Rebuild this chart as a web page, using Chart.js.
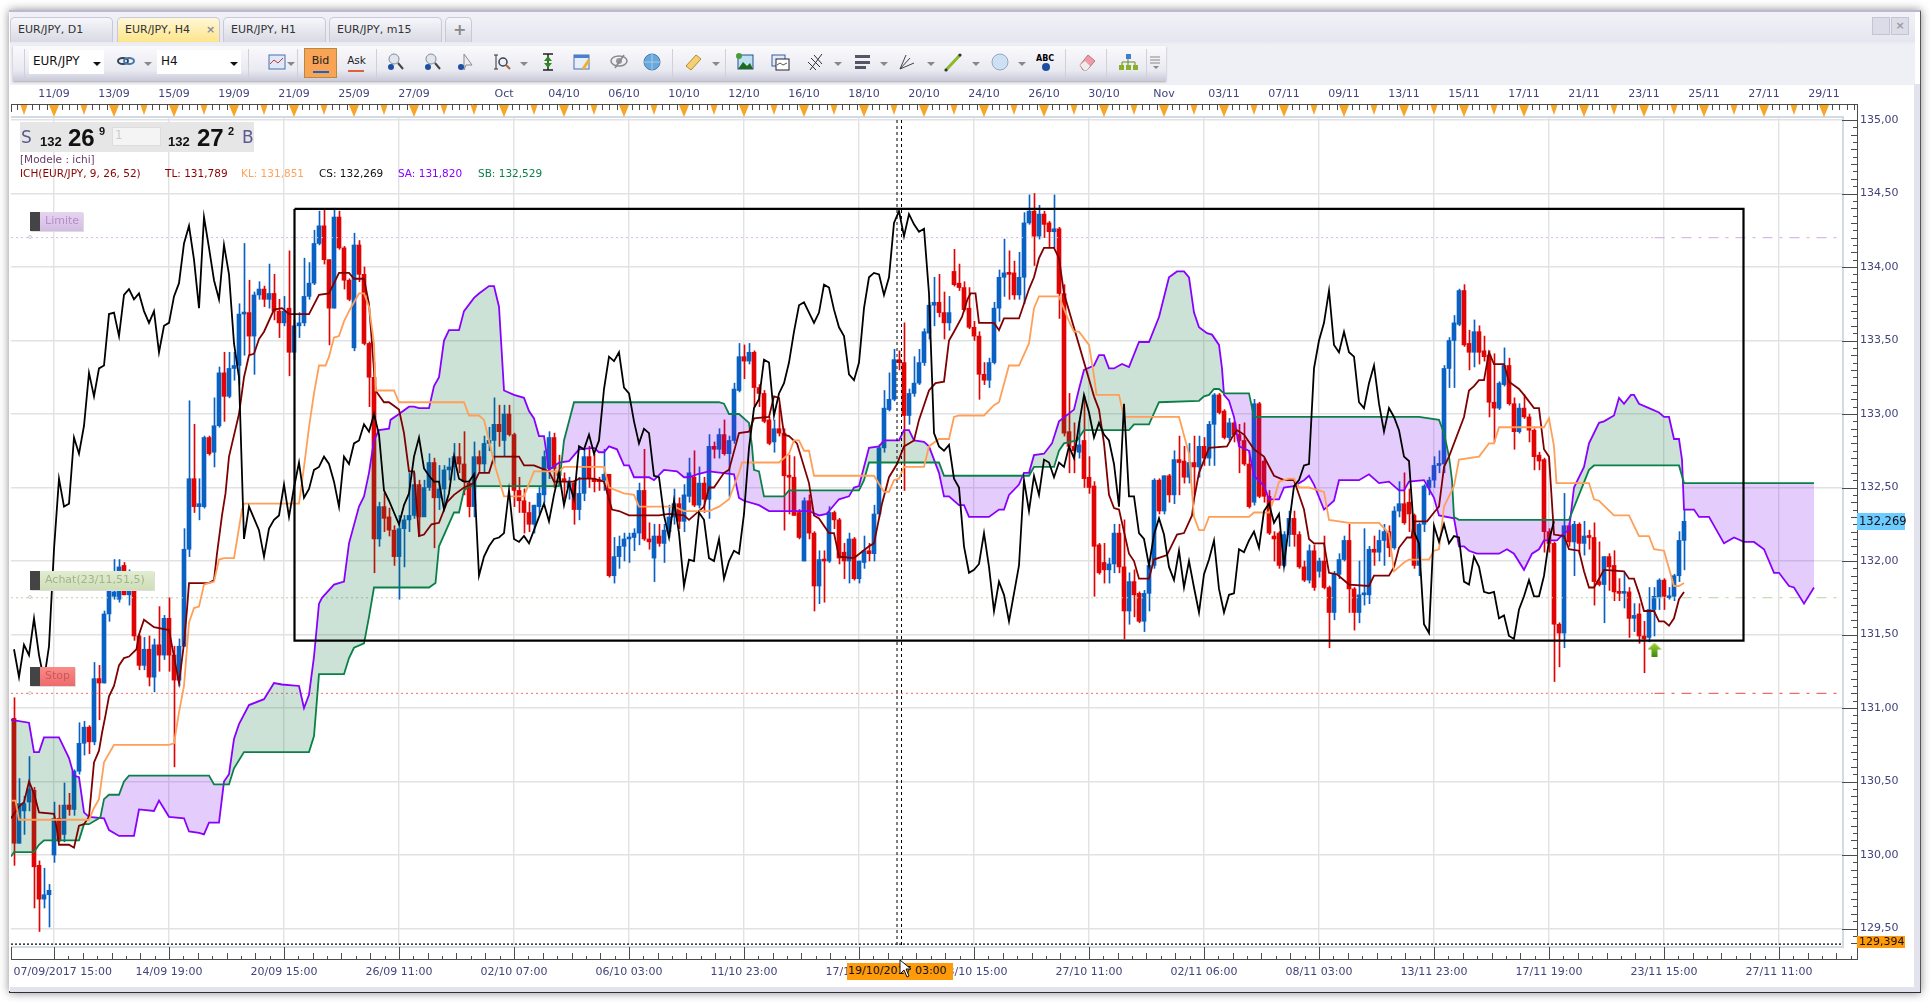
<!DOCTYPE html>
<html>
<head>
<meta charset="utf-8">
<title>EUR/JPY, H4</title>
<script src="https://cdn.jsdelivr.net/npm/chart.js@4/dist/chart.umd.min.js"></script>
<style>
  html, body { margin: 0; padding: 0; width: 1930px; height: 1002px; overflow: hidden; background: #fff; font-family: "DejaVu Sans", sans-serif; font-size: 11px; }
  div, span { position: absolute; white-space: nowrap; box-sizing: border-box; }
  #win { left: 9px; top: 10px; width: 1912px; height: 983px; background: #fff; border-top: 2px solid #b9b9d2; border-bottom: 2px solid #2e2e3a; border-right: 1px solid #555; box-shadow: 0 0 9px rgba(0,0,0,.45); }
  #head { left: 10px; top: 12px; width: 1905px; height: 73px; background: linear-gradient(#f1f1f7, #e6e6f0 40%, #efeff6 45%); }
  #sideR { left: 1914px; top: 84px; width: 6px; height: 907px; background: #e3e3ee; }
  #sideB { left: 10px; top: 987px; width: 1910px; height: 5px; background: #e3e3ee; }
  .tab { top: 17px; height: 25px; border: 1px solid #c8c8d8; border-bottom: none; border-radius: 5px 5px 0 0; background: linear-gradient(#f6f6fb, #d9d9e4); color: #333; line-height: 24px; padding-left: 7px; }
  .tab.on { background: linear-gradient(#fff7d8, #fde58a); }
  #tools { left: 13px; top: 46px; width: 1153px; height: 35px; background: linear-gradient(#fafafd, #e9e9f1 70%, #c9c9d8); box-shadow: 0 1px 2px #aaa; }
  .combo { top: 50px; height: 24px; background: #fff; line-height: 23px; padding-left: 4px; font-size: 12px; color: #111; }
  .arr { top: 62px; width: 0; height: 0; border-left: 4px solid transparent; border-right: 4px solid transparent; border-top: 4px solid #888; }
  .sep { top: 49px; width: 1px; height: 29px; background: #d0d0dc; }
  .tag { height: 19px; line-height: 18px; padding-left: 15px; font-size: 11px; box-shadow: 1px 1px 0 #ddd; }
  .tag i { position: absolute; left: 0; top: 0; width: 10px; height: 19px; background: #444; }
  .tagdot { width: 4px; height: 4px; border-radius: 50%; border: 1px solid #ccc; left: 28px; background: #fff; }
  #bigbox { left: 20px; top: 122px; width: 234px; height: 30px; background: #e6e6e6; }
  .b { font-family: "Liberation Sans", sans-serif; font-weight: bold; color: #111; }
  .lg { top: 167px; font-size: 10.5px; }
  #chartBox { left: 0; top: 0; width: 1930px; height: 1002px; }
</style>
</head>
<body>
<div id="win"></div>
<div id="head"></div>
<div id="sideR"></div>
<div id="sideB"></div>
<div class="tab" style="left:10px;width:103px">EUR/JPY, D1</div>
<div class="tab on" style="left:117px;width:103px">EUR/JPY, H4<span style="left:88px;top:0;color:#8a8a9a;font-weight:bold">×</span></div>
<div class="tab" style="left:223px;width:103px">EUR/JPY, H1</div>
<div class="tab" style="left:329px;width:113px">EUR/JPY, m15</div>
<div class="tab" style="left:445px;width:27px;font-size:16px;color:#888;font-weight:bold">+</div>
<div style="left:1872px;top:17px;width:18px;height:18px;background:#dcdce8;border:1px solid #c4c4d4"></div>
<div style="left:1891px;top:17px;width:18px;height:18px;background:#dcdce8;border:1px solid #c4c4d4;color:#999;text-align:center;line-height:16px;font-weight:bold">×</div>
<div id="tools"></div>
<div class="combo" style="left:29px;width:75px">EUR/JPY</div>
<div class="combo" style="left:157px;width:84px">H4</div>
<div class="arr" style="left:93px;border-top-color:#111"></div>
<div class="arr" style="left:230px;border-top-color:#111"></div>
<div style="left:304px;top:48px;width:33px;height:30px;background:#f9a356;border:1px solid #b58a3c;text-align:center;line-height:24px;color:#222">Bid<span style="left:8px;top:22px;width:16px;height:2px;background:#1166cc"></span></div>
<div style="left:343px;top:48px;width:27px;height:30px;text-align:center;line-height:24px;color:#222;font-size:10.5px">Ask<span style="left:5px;top:22px;width:16px;height:2px;background:#e0603a"></span></div>
<div id="iconRow"></div>

<div id="chartBox"><canvas id="chart" width="1930" height="1002"></canvas></div>

<div id="bigbox"></div>
<span style="left:21px;top:127px;font-size:17px;color:#5a5a90">S</span>
<span class="b" style="left:40px;top:134px;font-size:13px">132</span>
<span class="b" style="left:68px;top:124px;font-size:24px">26</span>
<span class="b" style="left:99px;top:125px;font-size:11px">9</span>
<div style="left:112px;top:127px;width:49px;height:19px;background:#f4f4f4;border:1px solid #ddd;color:#ccc;font-size:12px;padding-left:2px">1</div>
<span class="b" style="left:168px;top:134px;font-size:13px">132</span>
<span class="b" style="left:197px;top:124px;font-size:24px">27</span>
<span class="b" style="left:228px;top:125px;font-size:11px">2</span>
<span style="left:242px;top:127px;font-size:17px;color:#5a5a90">B</span>
<span style="left:20px;top:153px;font-size:10.5px;color:#6a3b6a">[Modele : ichi]</span>
<span class="lg" style="left:20px;color:#8b0000">ICH(EUR/JPY, 9, 26, 52)</span>
<span class="lg" style="left:165px;color:#8b0000">TL: 131,789</span>
<span class="lg" style="left:241px;color:#ffa35c">KL: 131,851</span>
<span class="lg" style="left:319px;color:#111">CS: 132,269</span>
<span class="lg" style="left:398px;color:#8a00ff">SA: 131,820</span>
<span class="lg" style="left:478px;color:#0a8048">SB: 132,529</span>

<div class="tag" style="left:30px;top:212px;width:53px;background:linear-gradient(#e6d4f0,#d4bce4);color:#b48fcb"><i></i>Limite</div>
<div class="tagdot" style="top:235px"></div>
<div class="tag" style="left:30px;top:571px;width:124px;background:linear-gradient(#e2ecd2,#cfdeb8);color:#a0b58a"><i></i>Achat(23/11,51,5)</div>
<div class="tagdot" style="top:595px"></div>
<div class="tag" style="left:30px;top:667px;width:45px;background:linear-gradient(#fb8a8a,#ee6a6a);color:#c85a5a"><i></i>Stop</div>
<div class="tagdot" style="top:691px"></div>

<div style="left:1857px;top:513px;width:48px;height:17px;background:#6ccbff;color:#111;font-size:11.5px;line-height:16px;padding-left:2px">132,269</div>
<div style="left:1857px;top:936px;width:48px;height:12px;background:#ff9a0a;color:#111;font-size:11px;line-height:11px;padding-left:2px">129,394</div>
<div style="left:847px;top:963px;width:106px;height:17px;background:#ff9a0a;color:#111;font-size:11px;line-height:16px;padding-left:1px">19/10/2017 03:00</div>
<svg style="position:absolute;left:899px;top:959px" width="14" height="20"><path d="M1 1 L1 15 L5 11 L8 18 L10 17 L7 10 L12 10 Z" fill="#fff" stroke="#111"/></svg>

<script>
// candles, one entry per H4 bar
const opens = [
  130.93,130.08,130.30,130.36,130.44,129.93,129.70,129.73,130.00,130.25,
  130.14,130.34,130.31,130.57,130.76,130.87,130.77,131.20,131.17,131.64,
  131.76,131.74,131.97,131.77,131.82,131.49,131.29,131.40,131.21,131.43,
  131.36,131.61,131.36,131.19,131.42,132.08,132.56,132.37,132.37,132.84,
  132.74,132.92,133.28,133.12,133.31,133.33,133.68,133.69,133.53,133.81,
  133.85,133.78,133.82,133.70,133.62,133.72,133.42,133.60,133.62,133.80,
  133.89,134.16,134.28,134.05,133.72,134.34,134.13,133.91,133.45,134.15,
  133.95,133.48,133.25,132.15,132.37,132.30,132.21,132.03,132.22,132.28,
  132.31,132.52,132.30,132.50,132.67,132.43,132.49,132.62,132.64,132.71,
  132.66,132.53,132.37,132.71,132.66,132.80,132.82,132.93,132.82,133.00,
  132.86,132.48,132.41,132.33,132.25,132.37,132.45,132.63,132.84,132.60,
  132.56,132.50,132.53,132.35,132.46,132.71,132.56,132.55,132.55,132.59,
  131.90,132.03,132.10,132.15,132.16,132.19,132.48,132.15,132.02,132.17,
  132.12,132.20,132.30,132.39,132.27,132.44,132.57,132.38,132.53,132.42,
  132.78,132.76,132.86,132.73,132.82,133.16,133.39,133.36,133.42,133.18,
  133.14,132.96,132.81,132.90,132.87,132.58,132.57,132.33,132.00,132.41,
  132.19,131.83,132.01,132.00,132.33,132.28,132.06,132.00,132.15,131.88,
  131.99,132.07,132.05,132.32,132.77,133.03,133.10,133.37,133.35,132.99,
  133.14,133.21,133.35,133.55,133.74,133.76,133.69,133.62,133.97,133.89,
  133.86,133.72,133.59,133.53,133.27,133.23,133.35,133.72,133.93,133.96,
  133.96,133.81,133.93,134.30,134.38,134.21,134.36,134.30,134.24,134.26,
  133.82,132.88,132.78,132.74,132.82,132.57,132.51,132.11,131.99,131.94,
  131.98,132.19,131.96,131.66,131.86,131.78,131.59,131.78,131.97,132.55,
  132.34,132.58,132.45,132.69,132.68,132.57,132.67,132.64,132.78,132.70,
  132.93,133.13,133.02,132.84,132.94,132.86,132.82,132.66,132.40,133.07,
  132.68,132.44,132.17,132.19,131.97,132.18,132.29,132.18,131.96,131.87,
  132.07,131.93,132.00,131.82,131.65,131.91,132.01,132.14,131.81,131.65,
  131.77,131.77,132.08,132.06,132.14,132.20,132.09,132.34,132.39,132.40,
  132.31,131.97,132.25,132.50,132.55,132.65,132.66,133.31,133.50,133.61,
  133.84,133.48,133.42,133.56,133.43,133.40,133.08,133.04,133.20,133.33,
  133.07,132.88,133.04,132.98,132.89,132.72,132.69,132.20,132.12,131.57,
  131.51,132.24,132.13,132.25,132.12,132.17,132.16,131.86,131.84,132.03,
  131.97,131.79,131.78,131.79,131.61,131.64,131.49,131.48,131.67,131.75,
  131.87,131.75,131.76,131.90,132.14
];
const highs = [
  131.07,130.52,130.40,130.67,130.46,129.96,129.91,129.80,130.36,130.34,
  130.49,130.42,130.58,130.90,130.91,130.88,131.31,131.29,131.66,131.85,
  132.01,132.01,131.99,131.94,131.84,131.50,131.48,131.49,131.47,131.69,
  131.63,131.75,131.42,131.47,132.22,133.09,132.93,132.56,132.85,132.85,
  133.11,133.32,133.42,133.42,133.42,133.75,134.16,133.91,133.83,133.90,
  133.87,134.02,133.95,133.78,133.80,134.11,133.64,133.69,134.06,134.03,
  134.25,134.38,134.39,134.05,134.40,134.38,134.14,133.92,134.23,134.18,
  134.00,133.49,133.35,132.40,132.46,132.36,132.24,132.31,132.31,132.60,
  132.60,132.55,132.55,132.73,132.70,132.65,132.65,132.70,132.80,132.80,
  132.88,132.55,132.81,132.75,132.85,132.91,133.11,133.06,133.06,133.06,
  132.87,132.57,132.49,132.40,132.38,132.50,132.75,132.88,132.87,132.72,
  132.60,132.57,132.55,132.57,132.76,132.78,132.73,132.57,132.76,132.59,
  132.16,132.17,132.19,132.19,132.22,132.53,132.76,132.26,132.25,132.25,
  132.25,132.38,132.49,132.43,132.52,132.70,132.75,132.64,132.57,132.86,
  132.81,132.90,132.96,132.85,133.21,133.48,133.47,133.48,133.43,133.20,
  133.16,132.98,132.96,133.06,132.90,132.72,132.71,132.35,132.43,132.45,
  132.20,132.07,132.07,132.37,132.34,132.29,132.12,132.19,132.16,132.00,
  132.17,132.12,132.38,132.79,133.16,133.28,133.44,133.43,133.62,133.17,
  133.39,133.44,133.58,133.76,133.93,133.95,133.83,133.80,134.12,134.02,
  133.90,133.86,133.63,133.56,133.35,133.38,133.76,133.98,134.19,134.11,
  134.04,134.10,134.37,134.49,134.50,134.42,134.38,134.31,134.49,134.27,
  133.88,133.14,132.94,132.95,133.12,132.71,132.54,132.12,132.12,132.02,
  132.25,132.25,132.28,131.92,131.94,131.79,131.80,131.98,132.56,132.56,
  132.58,132.59,132.75,132.85,132.78,132.80,132.85,132.85,132.84,132.95,
  133.14,133.14,133.03,132.97,132.95,132.93,132.94,132.75,133.10,133.08,
  132.70,132.48,132.20,132.20,132.20,132.34,132.34,132.20,132.00,132.11,
  132.11,132.02,132.17,131.83,131.93,132.05,132.17,132.25,131.82,132.00,
  132.22,132.10,132.17,132.21,132.25,132.24,132.37,132.54,132.60,132.49,
  132.32,132.26,132.52,132.57,132.71,132.75,133.33,133.52,133.67,133.85,
  133.88,133.57,133.64,133.60,133.53,133.43,133.41,133.22,133.45,133.38,
  133.11,133.07,133.13,133.00,132.90,132.74,132.70,132.22,132.13,131.58,
  132.46,132.26,132.27,132.26,132.27,132.21,132.26,132.13,132.03,132.05,
  132.07,131.88,131.92,131.82,131.71,131.71,131.59,131.82,131.82,131.88,
  131.88,131.82,131.91,132.20,132.35
];
const lows = [
  129.93,130.08,130.14,130.30,129.64,129.48,129.64,129.51,129.95,130.09,
  130.09,130.27,130.27,130.55,130.68,130.69,130.75,130.92,131.17,131.59,
  131.74,131.72,131.77,131.70,131.46,131.26,131.26,131.15,131.11,131.25,
  131.33,131.25,130.60,131.15,131.42,132.03,132.33,132.28,132.36,132.72,
  132.64,132.91,132.95,133.11,133.23,133.20,133.40,133.40,133.27,133.78,
  133.73,133.72,133.64,133.52,133.60,133.26,133.37,133.52,133.60,133.78,
  133.88,134.15,134.02,133.47,133.72,134.12,133.85,133.77,133.43,133.90,
  133.47,133.05,131.92,132.10,132.20,132.17,131.97,131.74,131.96,132.20,
  132.29,132.17,132.33,132.48,132.09,132.35,132.37,132.55,132.55,132.60,
  132.45,132.30,132.30,132.60,132.60,132.75,132.66,132.78,132.71,132.85,
  132.37,132.33,132.19,132.20,132.19,132.32,132.40,132.56,132.50,132.55,
  132.42,132.42,132.25,132.28,132.41,132.50,132.47,132.48,132.48,131.89,
  131.85,131.95,132.00,131.99,132.07,132.11,132.14,132.08,131.86,132.10,
  131.99,132.16,132.25,132.22,132.20,132.40,132.37,132.36,132.33,132.29,
  132.70,132.70,132.72,132.44,132.80,133.15,133.24,133.34,133.05,133.05,
  132.94,132.79,132.74,132.85,132.21,132.32,132.31,132.15,132.00,132.15,
  131.66,131.71,131.72,131.99,132.22,131.98,131.88,131.85,131.87,131.85,
  131.95,132.00,132.00,132.30,132.74,133.02,133.09,133.30,132.48,132.93,
  133.12,133.20,133.33,133.51,133.60,133.66,133.51,133.57,133.87,133.84,
  133.70,133.58,133.50,133.10,133.20,133.18,133.34,133.63,133.80,133.78,
  133.78,133.78,133.75,134.29,134.01,134.19,134.20,134.13,134.13,133.65,
  132.85,132.60,132.60,132.70,132.50,132.46,131.76,131.91,131.85,131.85,
  131.92,131.92,131.47,131.57,131.62,131.58,131.52,131.66,131.95,132.32,
  132.32,132.40,132.39,132.45,132.53,132.53,132.45,132.57,132.65,132.65,
  132.65,133.00,132.83,132.82,132.81,132.60,132.65,132.36,132.38,132.43,
  132.40,132.18,132.00,131.95,131.96,132.10,132.10,131.95,131.86,131.85,
  131.80,131.89,131.81,131.41,131.60,131.88,132.00,131.65,131.53,131.58,
  131.70,131.71,131.97,132.00,131.97,132.03,132.08,132.30,132.25,132.20,
  131.95,131.90,132.20,132.45,132.50,132.60,132.60,133.18,133.18,133.60,
  133.46,133.30,133.32,133.34,133.36,132.98,132.81,133.03,133.19,133.06,
  132.76,132.87,132.97,132.81,132.62,132.62,132.06,132.06,131.18,131.28,
  131.41,132.10,131.90,132.05,132.04,132.08,131.70,131.83,131.58,131.80,
  131.73,131.73,131.68,131.48,131.52,131.44,131.24,131.45,131.49,131.67,
  131.67,131.74,131.73,131.86,131.94
];
const closes = [
  130.08,130.35,130.35,130.45,129.92,129.70,129.73,129.76,130.25,130.10,
  130.34,130.31,130.57,130.76,130.87,130.77,131.20,131.17,131.64,131.80,
  131.79,131.96,131.77,131.80,131.49,131.29,131.40,131.21,131.43,131.36,
  131.61,131.36,131.19,131.42,132.08,132.56,132.37,132.39,132.84,132.73,
  132.92,133.28,133.12,133.31,133.33,133.68,133.69,133.53,133.81,133.85,
  133.78,133.82,133.70,133.62,133.70,133.42,133.60,133.62,133.80,133.89,
  134.16,134.28,134.05,133.72,134.34,134.13,133.91,133.78,134.15,133.95,
  133.48,133.25,132.15,132.37,132.29,132.21,132.03,132.22,132.28,132.31,
  132.52,132.30,132.50,132.67,132.43,132.49,132.62,132.64,132.71,132.66,
  132.54,132.37,132.71,132.66,132.80,132.82,132.93,132.88,133.00,132.86,
  132.48,132.41,132.33,132.25,132.38,132.46,132.71,132.84,132.63,132.58,
  132.54,132.54,132.35,132.46,132.71,132.56,132.54,132.54,132.59,131.90,
  132.03,132.10,132.15,132.16,132.19,132.48,132.15,132.13,132.17,132.12,
  132.21,132.30,132.39,132.27,132.45,132.60,132.38,132.53,132.42,132.78,
  132.76,132.86,132.73,132.82,133.17,133.39,133.36,133.42,133.18,133.14,
  132.95,132.80,132.90,132.87,132.58,132.57,132.31,132.16,132.41,132.19,
  131.83,132.01,132.00,132.33,132.28,132.02,132.00,132.15,131.88,132.00,
  132.07,132.05,132.32,132.77,133.04,133.10,133.37,133.35,132.99,133.14,
  133.21,133.35,133.56,133.74,133.76,133.69,133.62,133.69,133.88,133.86,
  133.71,133.59,133.53,133.27,133.23,133.35,133.72,133.93,133.96,133.95,
  133.81,133.93,134.30,134.38,134.21,134.36,134.29,134.24,134.26,133.82,
  132.87,132.78,132.75,132.79,132.56,132.50,132.10,131.92,131.94,131.98,
  132.19,131.96,131.66,131.86,131.77,131.59,131.78,131.97,132.55,132.34,
  132.58,132.45,132.69,132.67,132.57,132.67,132.64,132.78,132.70,132.93,
  133.13,133.01,132.84,132.94,132.86,132.82,132.66,132.37,133.07,132.44,
  132.44,132.19,132.15,131.97,132.18,132.29,132.18,131.96,131.87,132.07,
  131.82,132.00,131.82,131.65,131.91,132.01,132.14,131.81,131.65,131.77,
  131.78,132.08,132.06,132.14,132.20,132.09,132.34,132.39,132.26,132.32,
  131.97,132.25,132.51,132.55,132.65,132.66,133.31,133.50,133.62,133.84,
  133.47,133.42,133.56,133.42,133.39,133.08,133.04,133.21,133.33,133.07,
  132.88,133.04,132.98,132.89,132.71,132.68,132.20,132.12,131.57,131.51,
  132.24,132.13,132.25,132.12,132.17,132.16,131.86,131.84,132.03,131.96,
  131.79,131.78,131.79,131.61,131.63,131.49,131.47,131.67,131.76,131.87,
  131.76,131.76,131.90,132.14,132.27
];

// chikou span (black), one value per bar starting at bar 0
const chikou = [
  131.40,131.21,131.43,131.36,131.61,131.36,131.19,131.42,132.08,132.56,
  132.37,132.39,132.84,132.73,132.92,133.28,133.12,133.31,133.33,133.68,
  133.69,133.53,133.81,133.85,133.78,133.82,133.70,133.62,133.70,133.42,
  133.60,133.62,133.80,133.89,134.16,134.28,134.05,133.72,134.34,134.13,
  133.91,133.78,134.15,133.95,133.48,133.25,132.15,132.37,132.29,132.21,
  132.03,132.22,132.28,132.31,132.52,132.30,132.50,132.67,132.43,132.49,
  132.62,132.64,132.71,132.66,132.54,132.37,132.71,132.66,132.80,132.82,
  132.93,132.88,133.00,132.86,132.48,132.41,132.33,132.25,132.38,132.46,
  132.71,132.84,132.63,132.58,132.54,132.54,132.35,132.46,132.71,132.56,
  132.54,132.54,132.59,131.90,132.03,132.10,132.15,132.16,132.19,132.48,
  132.15,132.13,132.17,132.12,132.21,132.30,132.39,132.27,132.45,132.60,
  132.38,132.53,132.42,132.78,132.76,132.86,132.73,132.82,133.17,133.39,
  133.36,133.42,133.18,133.14,132.95,132.80,132.90,132.87,132.58,132.57,
  132.31,132.16,132.41,132.19,131.83,132.01,132.00,132.33,132.28,132.02,
  132.00,132.15,131.88,132.00,132.07,132.05,132.32,132.77,133.04,133.10,
  133.37,133.35,132.99,133.14,133.21,133.35,133.56,133.74,133.76,133.69,
  133.62,133.69,133.88,133.86,133.71,133.59,133.53,133.27,133.23,133.35,
  133.72,133.93,133.96,133.95,133.81,133.93,134.30,134.38,134.21,134.36,
  134.29,134.24,134.26,133.82,132.87,132.78,132.75,132.79,132.56,132.50,
  132.10,131.92,131.94,131.98,132.19,131.96,131.66,131.86,131.77,131.59,
  131.78,131.97,132.55,132.34,132.58,132.45,132.69,132.67,132.57,132.67,
  132.64,132.78,132.70,132.93,133.13,133.01,132.84,132.94,132.86,132.82,
  132.66,132.37,133.07,132.44,132.44,132.19,132.15,131.97,132.18,132.29,
  132.18,131.96,131.87,132.07,131.82,132.00,131.82,131.65,131.91,132.01,
  132.14,131.81,131.65,131.77,131.78,132.08,132.06,132.14,132.20,132.09,
  132.34,132.39,132.26,132.32,131.97,132.25,132.51,132.55,132.65,132.66,
  133.31,133.50,133.62,133.84,133.47,133.42,133.56,133.42,133.39,133.08,
  133.04,133.21,133.33,133.07,132.88,133.04,132.98,132.89,132.71,132.68,
  132.20,132.12,131.57,131.51,132.24,132.13,132.25,132.12,132.17,132.16,
  131.86,131.84,132.03,131.96,131.79,131.78,131.79,131.61,131.63,131.49,
  131.47,131.67,131.76,131.87,131.76,131.76,131.90,132.14,132.27
];

// indicator lines: bar position and price of each visible vertex
const tenkanX = [-0.6,1,2,3,4,5,8,8.6,9,11,12,13,14,15,16,17,17.6,18.3,19,20,21,22,23,24.5,25,26,28,31,32,33,34,34.6,35,39,40,40.6,41.6,42.3,43,45,46,47,48,49,50,52,53.6,55,59,61,63,65,67,68,70,71,72.3,74,75,77,78,79,80,81,82,83.5,85,86.6,88,90,92,93,95,96,101,102,104,107,108,112,113,116,118,119.6,121,123,129,131,134,135,138,139,140,142,143,145,147,148,151,152,153,154,155,156.6,159,160,161,163,164,165,168,171,172,173.6,175,176.6,178,180,181,183,184.3,186,187,188,189.6,190.7,191.3,192.3,193,196,197,198,201,203,204,205,206,208,209,210,216,217,218,219,220,221,223,224,225,227,228,230.6,232.6,234,235.6,236,237,239,242.6,243.6,244.6,246,248,250,252,254,256,258,259,260,262,263,264.6,267,271,272,275,276,277,278.6,279.5,280,282.6,284,285,286,287,290,291,292,293,294,295,296,298,299,301,302,304,305,306,307,308,310,311,313,314,315,316,318,322,323,324,325,326,328,329,330,331,332,333,334];
const tenkanY = [130.25,130.33,130.36,130.5,130.42,130.29,130.28,130.17,130.07,130.07,130.05,130.2,130.21,130.26,130.63,130.71,130.83,130.95,131.08,131.15,131.29,131.34,131.35,131.4,131.5,131.6,131.55,131.53,131.35,131.17,131.44,131.67,131.85,131.85,131.87,132.05,132.31,132.46,132.71,133,133.25,133.4,133.41,133.51,133.56,133.71,133.72,133.68,133.68,133.81,133.82,133.96,133.96,133.92,133.92,133.75,133.16,133.08,133.08,133.03,132.87,132.61,132.61,132.17,132.18,132.25,132.26,132.4,132.45,132.5,132.53,132.6,132.6,132.71,132.71,132.65,132.65,132.61,132.54,132.54,132.56,132.56,132.54,132.35,132.34,132.31,132.31,132.32,132.31,132.28,132.37,132.5,132.5,132.6,132.62,132.87,132.88,132.97,132.98,133.12,133.11,132.86,132.85,132.8,132.53,132.31,132.29,132.19,132.19,132.03,132.02,132.1,132.12,132.39,132.57,132.66,132.78,132.82,132.96,133.16,133.21,133.22,133.5,133.56,133.66,133.78,133.82,133.82,133.62,133.62,133.57,133.65,133.65,133.85,133.93,134.06,134.13,134.13,134.06,133.82,133.12,133.03,132.8,132.45,132.36,132.35,132.05,132,131.88,131.88,132.01,132.04,132.18,132.19,132.31,132.42,132.6,132.77,132.78,132.84,132.89,132.86,132.76,132.71,132.58,132.55,132.55,132.35,132.15,132.12,132.12,131.92,131.91,131.84,131.83,131.9,131.9,131.96,132.09,132.16,132.16,132.27,132.27,132.33,132.37,132.64,132.71,132.98,133.16,133.19,133.23,133.23,133.42,133.34,133.34,133.22,133.17,133.13,133.04,133.04,132.76,132.71,132.18,132.17,132.08,132.07,131.93,131.82,131.82,131.94,131.93,131.88,131.88,131.78,131.66,131.66,131.59,131.59,131.56,131.61,131.74,131.79];

const kijunX = [-0.6,0.3,1,15,16,17,18,20,31,32,33,34,35,36,37,38,40,41,42,44,45.6,46,57,58,59,60,61,62.3,63,64,65,66,67,69,70,71,72,72.3,76,77,90,91,93,94,95,96,98,102,104,109,110,118,119,122,124,125,132,134,139,141,143,145,145.6,153,155,156,157,158,159,160,172,174,175,176,177,178,182,183,185,187,188,189,194,196,197,199,201,203,204,205,209,211,212,213,215,216,216.5,221,222,233,235,236,237,238,239,247,248,251,252,253,255,256,257,259,262,263,267,273,275,276,278,279,283,284,285,286,288,289,293,295,296,297,306,307,308,308.5,315,316,317,320,323,325,327,328,330,332,333,334];
const kijunY = [130.37,130.37,130.24,130.24,130.32,130.38,130.63,130.75,130.75,130.76,130.97,131.15,131.58,131.68,131.69,131.84,131.86,132.01,132.02,132.02,132.35,132.39,132.39,132.64,132.91,133.14,133.33,133.33,133.39,133.52,133.53,133.63,133.7,133.82,133.82,133.73,133.48,133.16,133.16,133.08,133.08,132.99,132.99,132.96,132.82,132.67,132.44,132.44,132.61,132.61,132.64,132.64,132.5,132.46,132.45,132.37,132.37,132.34,132.34,132.37,132.42,132.6,132.67,132.67,132.73,132.82,132.82,132.75,132.75,132.58,132.58,132.47,132.47,132.55,132.56,132.64,132.64,132.78,132.83,132.83,132.98,132.99,132.99,133.06,133.08,133.33,133.33,133.48,133.72,133.8,133.8,133.63,133.56,133.56,133.47,133.26,133.13,133.13,132.98,132.98,132.73,132.3,132.21,132.21,132.3,132.3,132.33,132.33,132.42,132.54,132.56,132.56,132.5,132.5,132.47,132.28,132.26,132.26,132.19,131.93,131.99,132.01,132.01,132.07,132.08,132.37,132.51,132.69,132.71,132.8,132.8,132.91,132.91,132.97,132.78,132.53,132.53,132.42,132.41,132.31,132.31,132.17,132.17,132.08,132.07,131.83,131.83,131.85];

const senkouAX = [-0.6,3,4,5,6,9,11,12,13,14,15,18,19,21,24,25,28,29,31,34,35,37,38,39,41,42,43,44,45,47,50,52,53.6,57,58,59,60,61,61.6,64,66,67,69,70,71,72,73,75,75.3,77,79,80,81,83,84,85,86,87,89,90,92,93,95,96,97,97.6,98,100,102,103,104,105,106,107,109,111,113,116,117,118,119,120.6,122,123,124,127,128,130,132.6,134,135,136.6,139,144,145,146,149,151,155.6,159,161,162.5,165,167,168,169,171,173,174,177,178,179,180,182,183,185,186,187,189,190,191,195,197,198,199,201,202,203,204,206,207.6,209,212,213,214,216,217,218,219,220,221.6,223,225,227,229,231,232.6,234,235,236,237,238.6,239.6,241,241.6,242,243,244,245,247,248,250,251,253,254,256,258,259,260,262,264,265,269,271,273,275,277,278,279,282,284,285,288,289,290,291,292.6,297,298.6,300,302,303.6,305,306,308.6,310,311,312,314,315,317,318,320,321,322,323.4,324,325,327,329,330,331,332,333,333.6,334,336,337,339,342,344,346,348,350,352,353,355,356,358,360];
const senkouAY = [130.92,130.9,130.7,130.7,130.8,130.8,130.66,130.54,130.53,130.29,130.26,130.25,130.17,130.13,130.13,130.31,130.3,130.37,130.26,130.25,130.16,130.15,130.14,130.22,130.22,130.5,130.55,130.79,130.89,131.02,131.06,131.17,131.16,131.15,131,131.09,131.35,131.71,131.75,131.84,131.86,132.12,132.37,132.44,132.6,132.82,132.89,132.9,132.96,133,133.05,133.05,133.04,133.04,133.19,133.25,133.5,133.57,133.57,133.7,133.79,133.82,133.87,133.87,133.73,133.39,133.16,133.13,133.11,133.02,132.97,132.85,132.85,132.62,132.67,132.68,132.76,132.77,132.74,132.74,132.78,132.76,132.65,132.65,132.57,132.57,132.55,132.62,132.61,132.57,132.57,132.59,132.61,132.59,132.43,132.41,132.38,132.34,132.34,132.34,132.31,132.32,132.42,132.44,132.5,132.51,132.77,132.78,132.82,132.82,132.89,132.89,132.82,132.81,132.78,132.6,132.44,132.44,132.38,132.38,132.3,132.3,132.35,132.35,132.45,132.52,132.6,132.6,132.72,132.73,132.8,132.95,133.03,133.17,133.3,133.33,133.4,133.4,133.31,133.31,133.34,133.32,133.49,133.49,133.66,133.93,133.97,133.97,133.93,133.69,133.59,133.55,133.54,133.47,133.31,133.13,133.09,132.98,132.78,132.75,132.58,132.51,132.42,132.42,132.5,132.51,132.55,132.58,132.52,132.35,132.41,132.55,132.55,132.59,132.53,132.54,132.48,132.48,132.54,132.55,132.43,132.31,132.29,132.1,132.1,132.07,132.05,132.05,132.08,132.05,131.94,132.05,132.08,132.14,132.14,132.19,132.21,132.5,132.64,132.8,132.94,132.95,132.99,133.11,133.07,133.13,133.13,133.07,133.04,133.01,132.98,132.98,132.83,132.83,132.69,132.35,132.35,132.3,132.3,132.12,132.16,132.13,132.13,132.08,131.92,131.92,131.83,131.82,131.71,131.82];

const senkouBX = [-0.6,0,4,5,6,13,14,15,17,17.3,18,19,21,22,23,39,40,43,44,46,59,60,61,66,67,68,70,71,72,83,84.3,85,88,89,90,91,109,110,112,141,142,143,145,147,147.6,148,149,150,154,155,169,170,171,185,186,203,204,208,209,210,212.6,214,223,224,227,229,237,238,239,240,241,242,247,248,281,285,286,287,287.6,288,289,311,315,316,333,334,360];
const senkouBY = [129.99,130.02,130.02,130.07,130.1,130.1,130.21,130.21,130.25,130.26,130.38,130.41,130.41,130.5,130.54,130.54,130.48,130.48,130.59,130.7,130.7,130.81,131.23,131.23,131.34,131.41,131.44,131.62,131.82,131.82,131.85,132.1,132.33,132.33,132.48,132.51,132.51,132.82,133.08,133.08,133.07,133,133,132.94,132.78,132.62,132.61,132.44,132.44,132.48,132.48,132.55,132.67,132.67,132.58,132.58,132.64,132.64,132.75,132.8,132.82,132.89,132.89,132.93,132.93,133.08,133.09,133.12,133.13,133.17,133.17,133.14,133.14,132.98,132.98,132.96,132.87,132.71,132.55,132.3,132.28,132.28,132.62,132.65,132.65,132.53,132.53];

// drawings on the chart
const boxX = [56.1, 345.9, 345.9, 56.1, 56.1];
const boxY = [134.395, 134.395, 131.458, 131.458, 134.395];
const levelPrices = [134.2, 131.75, 131.1];
const levelColors = ['#d9b9e6', '#b7d3a2', '#ef6c6c'];
const levelSplitBar = 328.1;
const cursorBars = [176.6, 177.5];
const cursorPrice = 129.394;
const arrowBar = [328.1];
const arrowPrice = [131.398];

// axis labels
const bottomTickBars = [8,31,54,77,100,123,146,169,192,215,238,261,284,307,330,353];
const bottomLabels = ['\u00a0\u00a0\u00a0\u00a0\u00a007/09/2017 15:00','14/09 19:00','20/09 15:00','26/09 11:00','02/10 07:00','06/10 03:00','11/10 23:00','17/10 19:00','23/10 15:00','27/10 11:00','02/11 06:00','08/11 03:00','13/11 23:00','17/11 19:00','23/11 15:00','27/11 11:00'];
const topTickBars = [8,20,32,44,56,68,80,98,110,122,134,146,158,170,182,194,206,218,230,242,254,266,278,290,302,314,326,338,350,362];
const topLabels = ['11/09','13/09','15/09','19/09','21/09','25/09','27/09','Oct','04/10','06/10','10/10','12/10','16/10','18/10','20/10','24/10','26/10','30/10','Nov','03/11','07/11','09/11','13/11','15/11','17/11','21/11','23/11','25/11','27/11','29/11'];

const xMin = -0.6, xMax = 365.6;
const yMin = 129.388, yMax = 135.0136;
const LABEL = '#43437c';
const AXIS_FONT = { family: 'DejaVu Sans', size: 11 };

function pairs(xs, ys) {
  return xs.map((x, i) => ({ x: x, y: ys[i] }));
}
function lineSet(label, data, color, order, extra) {
  return Object.assign({ type: 'line', label, data, borderColor: color, borderWidth: 1.8, pointRadius: 0, fill: false, tension: 0, order }, extra || {});
}

// up arrow sprite for the buy marker
const arrowImg = document.createElement('canvas');
arrowImg.width = 14; arrowImg.height = 14;
(function () {
  const c = arrowImg.getContext('2d');
  const g = c.createLinearGradient(0, 0, 0, 14);
  g.addColorStop(0, '#a6d83a'); g.addColorStop(1, '#3f8a0c');
  c.fillStyle = g;
  c.beginPath();
  c.moveTo(7, 0); c.lineTo(14, 7); c.lineTo(10, 7); c.lineTo(10, 14); c.lineTo(4, 14); c.lineTo(4, 7); c.lineTo(0, 7);
  c.closePath(); c.fill();
})();

const upBar = opens.map((o, i) => closes[i] >= o);
const candleColors = upBar.map(u => u ? '#0a61c4' : '#e00404');

const datasets = [
  { type: 'bar', label: 'wicks', data: highs.map((h, i) => ({ x: i + 0.1, y: [lows[i], h] })), backgroundColor: candleColors, barThickness: 1, grouped: false, order: 20 },
  { type: 'bar', label: 'bodies', data: opens.map((o, i) => ({ x: i, y: [o, closes[i]] })), backgroundColor: candleColors, barThickness: 4, minBarLength: 2, grouped: false, order: 19 },
  lineSet('Senkou A', pairs(senkouAX, senkouAY), '#8a00ff', 6, { fill: { target: 3, above: 'rgba(0,110,50,0.2)', below: 'rgba(120,0,240,0.2)' } }),
  lineSet('Senkou B', pairs(senkouBX, senkouBY), '#0a8048', 5),
  lineSet('Tenkan', pairs(tenkanX, tenkanY), '#7f0000', 4),
  lineSet('Kijun', pairs(kijunX, kijunY), '#ff9f58', 3),
  lineSet('Chikou', chikou.map((v, i) => ({ x: i, y: v })), '#000000', 2),
  lineSet('Box', pairs(boxX, boxY), '#000000', 1, { borderWidth: 2.2 })
];
levelPrices.forEach((p, k) => {
  datasets.push(lineSet('level' + k, [{ x: xMin, y: p }, { x: levelSplitBar, y: p }], levelColors[k], 8, { borderWidth: 1, borderDash: [2, 3] }));
  datasets.push(lineSet('level' + k + 'b', [{ x: levelSplitBar, y: p }, { x: xMax, y: p }], levelColors[k], 8, { borderWidth: 1.2, borderDash: [10, 7, 3, 7] }));
});
cursorBars.forEach((b, k) => {
  datasets.push(lineSet('cursor' + k, [{ x: b, y: yMin }, { x: b, y: yMax }], '#000', 0, { borderWidth: 1, borderDash: [3, 3] }));
});
datasets.push(lineSet('cursorH', [{ x: xMin, y: cursorPrice }, { x: xMax, y: cursorPrice }], '#000', 0, { borderWidth: 1.2, borderDash: [2, 2] }));
datasets.push({ type: 'line', label: 'arrow', data: pairs(arrowBar, arrowPrice), showLine: false, pointStyle: arrowImg, pointRadius: 7, order: 0 });

// rulers, tick marks and panel frame that the app draws round the plot
const frame = {
  id: 'frame',
  afterDraw(chart) {
    const ctx = chart.ctx, a = chart.chartArea, x = chart.scales.x, y = chart.scales.y;
    const axisX = a.right + 15;
    ctx.save();
    ctx.strokeStyle = '#d3dae4'; ctx.lineWidth = 2;
    ctx.beginPath();
    ctx.moveTo(a.left, a.top - 1); ctx.lineTo(a.right + 1, a.top - 1); ctx.lineTo(a.right + 1, a.bottom + 2); ctx.lineTo(a.left, a.bottom + 2);
    ctx.stroke();
    ctx.strokeStyle = '#4c4c4c'; ctx.lineWidth = 1;
    ctx.beginPath();
    // top date ruler
    ctx.moveTo(a.left, 104.5); ctx.lineTo(axisX + 0.5, 104.5);
    ctx.moveTo(a.left + 0.5, 104); ctx.lineTo(a.left + 0.5, 112);
    const topStart = x.getPixelForValue(2);
    for (let p = topStart - 7.5; p < axisX; p += 7.5) {
      const px = Math.round(p) + 0.5;
      ctx.moveTo(px, 104); ctx.lineTo(px, 110);
    }
    // bottom time ruler
    ctx.moveTo(a.left, 959.5); ctx.lineTo(axisX + 0.5, 959.5);
    ctx.moveTo(a.left + 0.5, 947); ctx.lineTo(a.left + 0.5, 960);
    bottomTickBars.forEach(b => {
      const base = x.getPixelForValue(b);
      const px = Math.round(base) + 0.5;
      ctx.moveTo(px, 947); ctx.lineTo(px, 960);
      for (let m = 1; m < 8; m++) {
        const mx = Math.round(base + m * 115 / 8) + 0.5;
        if (mx > axisX) break;
        ctx.moveTo(mx, m % 2 ? 956 : 953); ctx.lineTo(mx, 960);
      }
    });
    // price ruler
    ctx.moveTo(axisX + 0.5, 104); ctx.lineTo(axisX + 0.5, 960);
    y.ticks.forEach(t => {
      const py = Math.round(y.getPixelForValue(t.value)) + 0.5;
      const n = Math.round(t.value * 20);
      const from = n % 10 === 0 ? a.right : (n % 2 === 0 ? axisX - 6 : axisX - 4);
      ctx.moveTo(from, py); ctx.lineTo(axisX, py);
    });
    ctx.stroke();
    // orange date flags
    ctx.fillStyle = '#f7a526';
    for (let b = 2; b <= 362; b += 6) {
      const big = topTickBars.includes(b);
      const px = x.getPixelForValue(b);
      const w = big ? 5 : 3.5, h = big ? 12 : 10;
      ctx.beginPath();
      ctx.moveTo(px - w, 105); ctx.lineTo(px + w, 105); ctx.lineTo(px, 105 + h); ctx.closePath();
      ctx.fill();
    }
    ctx.restore();
  }
};

new Chart(document.getElementById('chart'), {
  type: 'line',
  data: { datasets },
  plugins: [frame],
  options: {
    responsive: false,
    animation: false,
    devicePixelRatio: 1,
    parsing: { xAxisKey: 'x', yAxisKey: 'y' },
    normalized: false,
    layout: { padding: { left: 11, top: 84, right: 30, bottom: 17 } },
    plugins: { legend: { display: false }, tooltip: { enabled: false } },
    scales: {
      x: {
        type: 'linear', position: 'bottom', min: xMin, max: xMax, offset: false,
        grid: { color: '#e2e2e2', lineWidth: 1.4, drawTicks: false, offset: false },
        border: { display: false },
        afterBuildTicks(s) { s.ticks = bottomTickBars.map(v => ({ value: v })); },
        afterFit(s) { s.height = 40; s.paddingLeft = 0; s.paddingRight = 0; },
        ticks: {
          autoSkip: false, maxRotation: 0, minRotation: 0, padding: 21, color: LABEL, font: AXIS_FONT,
          callback(v) { return bottomLabels[bottomTickBars.indexOf(v)]; }
        }
      },
      xTop: {
        type: 'linear', position: 'top', min: xMin, max: xMax, offset: false,
        grid: { display: false, drawTicks: false },
        border: { display: false },
        afterBuildTicks(s) { s.ticks = topTickBars.map(v => ({ value: v })); },
        afterFit(s) { s.height = 34; s.paddingLeft = 0; s.paddingRight = 0; },
        ticks: {
          autoSkip: false, maxRotation: 0, minRotation: 0, padding: 17, color: LABEL, font: AXIS_FONT,
          callback(v) { return topLabels[topTickBars.indexOf(v)]; }
        }
      },
      y: {
        type: 'linear', position: 'right', min: yMin, max: yMax,
        grid: {
          drawTicks: false, lineWidth: 1.4,
          color(c) { return c.tick && Math.round(c.tick.value * 20) % 10 === 0 ? '#e2e2e2' : 'transparent'; }
        },
        border: { display: false },
        afterBuildTicks(s) {
          const out = [];
          for (let n = 129.4 * 20; n <= 135 * 20 + 0.01; n++) out.push({ value: Math.round(n) / 20 });
          s.ticks = out;
        },
        afterFit(s) { s.width = 58; s.paddingTop = 0; s.paddingBottom = 0; },
        ticks: {
          autoSkip: false, padding: 18, color: LABEL, font: AXIS_FONT,
          callback(v) { return Math.round(v * 20) % 10 === 0 ? v.toFixed(2).replace('.', ',') : ''; }
        }
      }
    }
  }
});

// toolbar glyphs, plain shapes only
const iconRow = document.getElementById('iconRow');
const glyphs = [
  [126,'<ellipse cx="7" cy="9" rx="5" ry="3" fill="none" stroke="#345" stroke-width="2"/><ellipse cx="13" cy="9" rx="5" ry="3" fill="none" stroke="#47a" stroke-width="2"/>'],
  [277,'<rect x="2" y="3" width="16" height="14" fill="#dfe8f6" stroke="#4a6fb0"/><path d="M3 12l4-4 4 3 5-5" stroke="#c33" fill="none"/>'],
  [395,'<circle cx="9" cy="7" r="5" fill="#dfe6ee" stroke="#889"/><path d="M13 11l5 6" stroke="#444" stroke-width="2"/><circle cx="6" cy="15" r="3" fill="#1d4fa0"/>'],
  [432,'<circle cx="9" cy="7" r="5" fill="#dfe6ee" stroke="#889"/><path d="M13 11l5 6" stroke="#444" stroke-width="2"/><circle cx="6" cy="15" r="3" fill="#1d4fa0"/>'],
  [465,'<path d="M9 2l8 11H11l-2 5z" fill="#eee" stroke="#889"/><circle cx="6" cy="15" r="3" fill="#1d4fa0"/>'],
  [502,'<path d="M4 3v14M2 3h4M2 17h4" stroke="#333"/><circle cx="11" cy="10" r="4" fill="none" stroke="#345" stroke-width="1.5"/><path d="M14 13l4 4" stroke="#a63" stroke-width="2"/>'],
  [548,'<path d="M10 2v16M5 2h10M5 18h10" stroke="#222" stroke-width="1.5"/><path d="M10 4l-4 5h8zM10 16l-4-5h8z" fill="#2c8a1e"/>'],
  [582,'<rect x="2" y="3" width="15" height="14" fill="#e6eefa" stroke="#4a6fb0"/><rect x="2" y="3" width="15" height="3" fill="#4a7fd0"/><path d="M17 8l-6 9" stroke="#f0b030" stroke-width="3"/>'],
  [619,'<ellipse cx="10" cy="9" rx="8" ry="5" fill="none" stroke="#888" stroke-width="1.5"/><circle cx="10" cy="9" r="3" fill="#999"/><path d="M15 3L6 16" stroke="#888" stroke-width="1.5"/>'],
  [652,'<circle cx="10" cy="10" r="8" fill="#68a8dc" stroke="#4a80b0"/><path d="M2 10h16M10 2v16" stroke="#a7cdea"/>'],
  [693,'<path d="M3 14L13 3l5 4L8 18z" fill="#f5d070" stroke="#b08a30"/>'],
  [745,'<rect x="3" y="3" width="15" height="14" fill="#bfe0f4" stroke="#25508a"/><path d="M3 17l5-7 4 4 3-3 3 6z" fill="#206a20"/><circle cx="4" cy="4" r="3" fill="#4c9a3a"/>'],
  [780,'<rect x="2" y="3" width="13" height="11" fill="#e2eaf6" stroke="#3a5da0"/><rect x="6" y="7" width="13" height="11" fill="#fff" stroke="#223"/><path d="M7 13l3-2 3 2 4-2" stroke="#555" fill="none"/>'],
  [816,'<path d="M4 18L16 2M2 10l8 8M8 3l8 9M5 6l9 9" stroke="#333" fill="none"/>'],
  [862,'<rect x="3" y="3" width="15" height="3" fill="#556"/><rect x="3" y="9" width="15" height="3" fill="#556"/><rect x="3" y="14" width="11" height="3" fill="#556"/>'],
  [907,'<path d="M3 17L9 3M3 17L13 6M3 17L17 11" stroke="#444" fill="none"/>'],
  [953,'<path d="M3 18L17 3" stroke="#8cb82a" stroke-width="3"/><circle cx="3" cy="18" r="1.6" fill="#333"/><circle cx="17" cy="3" r="1.6" fill="#333"/>'],
  [1000,'<circle cx="10" cy="10" r="8" fill="#cfe0f2" stroke="#8fa8c6"/>'],
  [1045,'<text x="1" y="9" font-size="8" font-family="DejaVu Sans" font-weight="bold">ABC</text><circle cx="11" cy="15" r="4" fill="#1d4fa0"/>'],
  [1087,'<path d="M3 13L11 3l7 6-8 9H6z" fill="#ee9aa8" stroke="#b77"/><path d="M3 13l4 5h3l3-4-5-5z" fill="#eee"/>'],
  [1128,'<rect x="8" y="2" width="5" height="5" fill="#3a7fd0"/><path d="M10 7v3M4 10h13M4 10v3M10 10v3M17 10v3" stroke="#6a8a20"/><rect x="1" y="13" width="5" height="5" fill="#8ab02a"/><rect x="8" y="13" width="5" height="5" fill="#8ab02a"/><rect x="15" y="13" width="5" height="5" fill="#8ab02a"/>'],
  [1156,'<path d="M4 5h10M4 8h10M4 11h10" stroke="#888"/><path d="M7 14h6l-3 3z" fill="#888"/>']
];
let iconHtml = '';
glyphs.forEach(g => {
  iconHtml += '<svg style="position:absolute;left:' + (g[0] - 10) + 'px;top:52px" width="21" height="21">' + g[1] + '</svg>';
});
[148, 291, 524, 716, 838, 884, 931, 976, 1022].forEach(p => {
  iconHtml += '<div class="arr" style="left:' + (p - 4) + 'px"></div>';
});
[24, 248, 297, 376, 672, 725, 1065, 1106, 1146].forEach(p => {
  iconHtml += '<div class="sep" style="left:' + p + 'px"></div>';
});
iconRow.innerHTML = iconHtml;
</script>
</body>
</html>
